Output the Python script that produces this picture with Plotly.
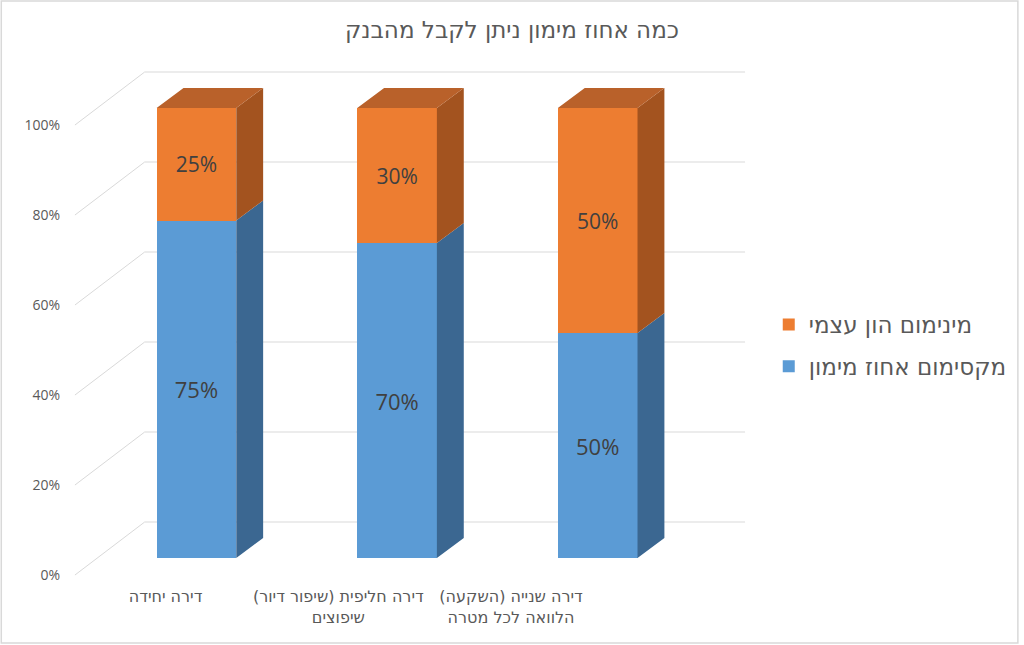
"""3D-style stacked percentage bars: financing share vs. own capital"""
import plotly.graph_objects as go

# ---- data ----
categories = [
    "דירה יחידה",
    "דירה חליפית (שיפור דיור)\u200f<br>שיפוצים",
    "דירה שנייה (השקעה)\u200f<br>הלוואה לכל מטרה",
]
max_financing = [75, 70, 50]      # מקסימום אחוז מימון
min_equity = [25, 30, 50]         # מינימום הון עצמי
y_ticks = [0, 20, 40, 60, 80, 100]

series_names = ["מקסימום אחוז מימון", "מינימום הון עצמי"]
title_text = "כמה אחוז מימון ניתן לקבל מהבנק"

# ---- pseudo 3D geometry (in axis units) ----
PX_X = 201.5          # pixels per category
PX_Y = 4.5            # pixels per percent
BAR_W = 80 / PX_X
DEPTH_DX = 27 / PX_X  # bar depth offset
DEPTH_DY = 20 / PX_Y
WALL_BACK_DY = 36 / PX_Y      # back wall relative to bar front plane
WALL_FRONT_DY = -17 / PX_Y    # front edge of the side wall
WALL_X_FRONT = (75 - 197) / PX_X
WALL_X_BACK = (145 - 197) / PX_X
WALL_X_END = (748 - 197) / PX_X
LABEL_X0 = (166 - 197) / PX_X
LABEL_STEP = 173.5 / PX_X

blue, blue_side = "#5B9BD5", "#3B6791"
orange, orange_side, orange_top = "#ED7D31", "#A3531F", "#B9612A"
text_grey = "#595959"
grid_grey = "#D9D9D9"
font = "Open Sans, Liberation Sans, DejaVu Sans, sans-serif"
heb_font = "DejaVu Sans, sans-serif"

xs = list(range(len(categories)))

fig = go.Figure()

# front faces
fig.add_trace(go.Bar(x=xs, y=max_financing, name=series_names[0], marker_color=blue,
                     marker_line_width=0, width=BAR_W, legendgroup="a", legendrank=2,
                     texttemplate="%{y}%", textposition="inside", insidetextanchor="middle",
                     textfont=dict(size=22, color="#404040"), hoverinfo="skip"))
fig.add_trace(go.Bar(x=xs, y=min_equity, name=series_names[1], marker_color=orange,
                     marker_line_width=0, width=BAR_W, legendgroup="b", legendrank=1,
                     texttemplate="%{y}%", textposition="inside", insidetextanchor="middle",
                     textfont=dict(size=21, color="#404040"), hoverinfo="skip"))


def side_polys(bases, values):
    px, py = [], []
    for i, (b, v) in enumerate(zip(bases, values)):
        r = i + BAR_W / 2
        px += [r, r + DEPTH_DX, r + DEPTH_DX, r, r, None]
        py += [b, b + DEPTH_DY, b + v + DEPTH_DY, b + v, b, None]
    return px, py


sx, sy = side_polys([0] * len(xs), max_financing)
fig.add_trace(go.Scatter(x=sx, y=sy, fill="toself", fillcolor=blue_side, mode="lines",
                         line=dict(width=0), showlegend=False, hoverinfo="skip"))
sx, sy = side_polys(max_financing, min_equity)
fig.add_trace(go.Scatter(x=sx, y=sy, fill="toself", fillcolor=orange_side, mode="lines",
                         line=dict(width=0), showlegend=False, hoverinfo="skip"))

# top faces
tx, ty = [], []
for i, (a, b) in enumerate(zip(max_financing, min_equity)):
    top = a + b
    l, r = i - BAR_W / 2, i + BAR_W / 2
    tx += [l, l + DEPTH_DX, r + DEPTH_DX, r, l, None]
    ty += [top, top + DEPTH_DY, top + DEPTH_DY, top, top, None]
fig.add_trace(go.Scatter(x=tx, y=ty, fill="toself", fillcolor=orange_top, mode="lines",
                         line=dict(width=0), showlegend=False, hoverinfo="skip"))

# back wall and side wall gridlines
for t in y_ticks:
    fig.add_shape(type="line", xref="x", yref="y", layer="below",
                  x0=WALL_X_BACK, x1=WALL_X_END, y0=t + WALL_BACK_DY, y1=t + WALL_BACK_DY,
                  line=dict(color=grid_grey, width=1))
    fig.add_shape(type="line", xref="x", yref="y", layer="below",
                  x0=WALL_X_FRONT, x1=WALL_X_BACK, y0=t + WALL_FRONT_DY, y1=t + WALL_BACK_DY,
                  line=dict(color=grid_grey, width=1))

# chart border
L, R, T, B = 66, 264, 55, 60
PW, PH = 1024 - L - R, 645 - T - B
fig.add_shape(type="rect", xref="paper", yref="paper",
              x0=-(L - 1) / PW, x1=1 + (R - 2) / PW, y0=-(B - 2) / PH, y1=1 + (T - 1) / PH,
              line=dict(color=grid_grey, width=1.5))

fig.update_layout(
    width=1024, height=645,
    barmode="stack",
    plot_bgcolor="white", paper_bgcolor="white",
    margin=dict(l=L, r=R, t=T, b=B),
    font=dict(family=font, color=text_grey),
    title=dict(text=title_text, x=0.5, xref="container", xanchor="center",
               y=0.953, yanchor="middle",
               font=dict(size=23, color=text_grey, family=heb_font)),
    legend=dict(x=1.017, xanchor="left", y=0.452, yanchor="middle",
                traceorder="grouped", tracegroupgap=9,
                font=dict(size=23, color=text_grey, family=heb_font)),
    xaxis=dict(range=[(L - 197) / PX_X, (1024 - R - 197) / PX_X],
               tickvals=[LABEL_X0 + LABEL_STEP * i for i in xs], ticktext=categories,
               showgrid=False, zeroline=False, showline=False, ticks="",
               tickfont=dict(size=16, color=text_grey, family=heb_font), fixedrange=True),
    yaxis=dict(range=[(558 - (645 - B)) / PX_Y, (558 - T) / PX_Y],
               tickvals=[t + WALL_FRONT_DY for t in y_ticks], ticktext=[f"{t}%" for t in y_ticks],
               showgrid=False, zeroline=False, showline=False, ticks="", ticklabelstandoff=5,
               tickfont=dict(size=14, color=text_grey), fixedrange=True),
    showlegend=True,
)

fig.write_html("out.html", config={"displayModeBar": False},
               post_script="document.body.style.margin='0';")
